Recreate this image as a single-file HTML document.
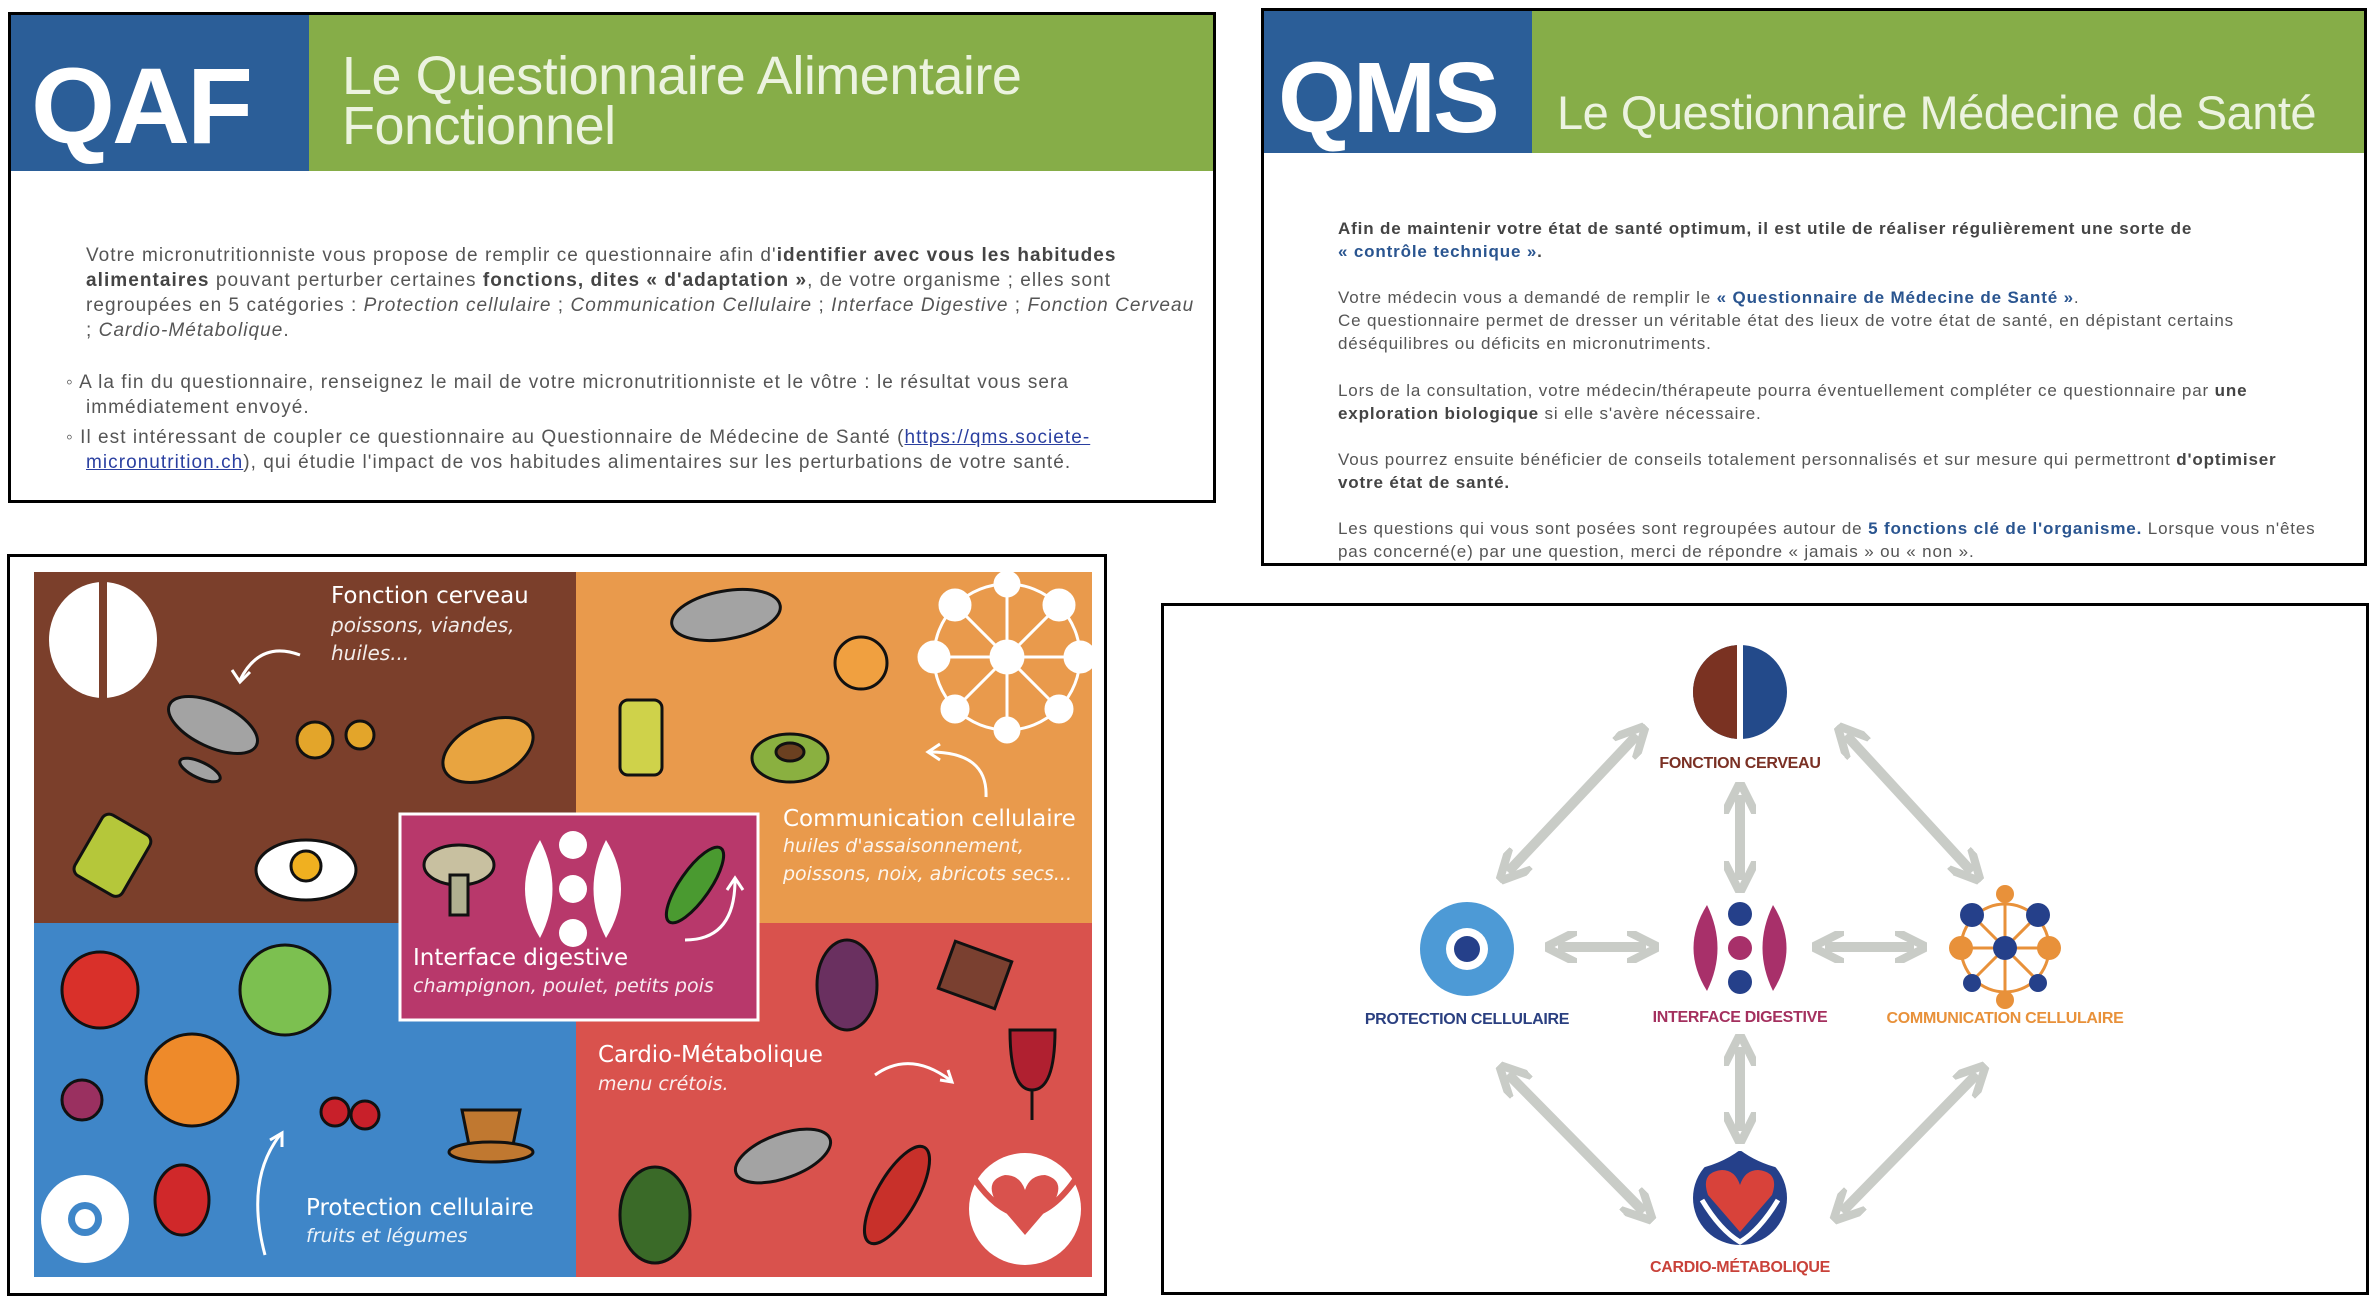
<!DOCTYPE html>
<html><head><meta charset="utf-8">
<style>
*{margin:0;padding:0;box-sizing:border-box}
body{width:2376px;height:1306px;background:#fff;position:relative;overflow:hidden;font-family:"Liberation Sans",sans-serif}
.box{position:absolute;border:3px solid #000;background:#fff;overflow:hidden}
.abs{position:absolute;white-space:nowrap}
.qaf p{font-size:19px;color:#555;line-height:25px;letter-spacing:1.05px}
.qms p{font-size:17px;color:#555;line-height:23.5px;letter-spacing:0.85px}
b{color:#444}
.lk{color:#2a5590;font-weight:bold}
.t{color:#fff;font-family:"DejaVu Sans","Liberation Sans",sans-serif}
.lab{position:absolute;font-weight:bold;font-size:16px;transform:translateX(-50%);white-space:nowrap;letter-spacing:-0.3px}
.ttl{color:rgba(245,248,238,0.92);letter-spacing:-0.5px}
</style></head><body>

<!-- QAF -->
<div class="box qaf" style="left:8px;top:12px;width:1208px;height:491px">
 <div class="abs" style="left:0;top:0;width:298px;height:156px;background:#2b5e98"></div>
 <div class="abs" style="left:298px;top:0;width:910px;height:156px;background:#86ad48"></div>
 <div class="abs" style="left:20px;top:28px;font-size:108px;font-weight:bold;color:#fff;letter-spacing:-3px">QAF</div>
 <div class="abs ttl" style="left:331px;top:36px;font-size:54px;line-height:50px">Le Questionnaire Alimentaire<br>Fonctionnel</div>
 <p class="abs" style="left:75px;top:228px">Votre micronutritionniste vous propose de remplir ce questionnaire afin d'<b>identifier avec vous les habitudes</b></p>
 <p class="abs" style="left:75px;top:253px"><b>alimentaires</b> pouvant perturber certaines <b>fonctions, dites « d'adaptation »</b>, de votre organisme ; elles sont</p>
 <p class="abs" style="left:75px;top:278px">regroupées en 5 catégories : <i>Protection cellulaire</i> ; <i>Communication Cellulaire</i> ; <i>Interface Digestive</i> ; <i>Fonction Cerveau</i></p>
 <p class="abs" style="left:75px;top:303px">; <i>Cardio-Métabolique</i>.</p>
 <p class="abs" style="left:55px;top:355px">◦ A la fin du questionnaire, renseignez le mail de votre micronutritionniste et le vôtre : le résultat vous sera</p>
 <p class="abs" style="left:75px;top:380px">immédiatement envoyé.</p>
 <p class="abs" style="left:55px;top:410px">◦ Il est intéressant de coupler ce questionnaire au Questionnaire de Médecine de Santé (<u style="color:#2a3fa0">https://qms.societe-</u></p>
 <p class="abs" style="left:75px;top:435px"><u style="color:#2a3fa0">micronutrition.ch</u>), qui étudie l'impact de vos habitudes alimentaires sur les perturbations de votre santé.</p>
</div>

<!-- QMS -->
<div class="box qms" style="left:1261px;top:8px;width:1106px;height:558px">
 <div class="abs" style="left:0;top:0;width:268px;height:142px;background:#2b5e98"></div>
 <div class="abs" style="left:268px;top:0;width:840px;height:142px;background:#86ad48"></div>
 <div class="abs" style="left:14px;top:30px;font-size:100px;font-weight:bold;color:#fff;letter-spacing:-3px">QMS</div>
 <div class="abs ttl" style="left:293px;top:74px;font-size:47px">Le Questionnaire Médecine de Santé</div>
 <p class="abs" style="left:74px;top:206px"><b>Afin de maintenir votre état de santé optimum, il est utile de réaliser régulièrement une sorte de</b></p>
 <p class="abs" style="left:74px;top:229px"><span class="lk">« contrôle technique »</span><b>.</b></p>
 <p class="abs" style="left:74px;top:275px">Votre médecin vous a demandé de remplir le <span class="lk">« Questionnaire de Médecine de Santé »</span>.</p>
 <p class="abs" style="left:74px;top:298px">Ce questionnaire permet de dresser un véritable état des lieux de votre état de santé, en dépistant certains</p>
 <p class="abs" style="left:74px;top:321px">déséquilibres ou déficits en micronutriments.</p>
 <p class="abs" style="left:74px;top:368px">Lors de la consultation, votre médecin/thérapeute pourra éventuellement compléter ce questionnaire par <b>une</b></p>
 <p class="abs" style="left:74px;top:391px"><b>exploration biologique</b> si elle s'avère nécessaire.</p>
 <p class="abs" style="left:74px;top:437px">Vous pourrez ensuite bénéficier de conseils totalement personnalisés et sur mesure qui permettront <b>d'optimiser</b></p>
 <p class="abs" style="left:74px;top:460px"><b>votre état de santé.</b></p>
 <p class="abs" style="left:74px;top:506px">Les questions qui vous sont posées sont regroupées autour de <span class="lk">5 fonctions clé de l'organisme.</span> Lorsque vous n'êtes</p>
 <p class="abs" style="left:74px;top:529px">pas concerné(e) par une question, merci de répondre « jamais » ou « non ».</p>
</div>

<!-- Food panel -->
<div class="box" style="left:7px;top:554px;width:1100px;height:742px">
<svg width="1100" height="742" style="position:absolute;left:-3px;top:-3px">
 <g transform="translate(-7,-554)">
 <rect x="34" y="572" width="542" height="351" fill="#7b3f2b"/>
 <rect x="576" y="572" width="516" height="351" fill="#e99a4c"/>
 <rect x="34" y="923" width="542" height="354" fill="#3f86c8"/>
 <rect x="576" y="923" width="516" height="354" fill="#d9524d"/>
 <rect x="400" y="814" width="358" height="206" fill="#b8386b" stroke="#fff" stroke-width="3"/>
 <ellipse cx="103" cy="640" rx="54" ry="58" fill="#fff"/><rect x="99" y="580" width="8" height="120" fill="#7b3f2b"/>
 <g stroke="#fff" stroke-width="3" fill="#fff">
  <circle cx="1007" cy="657" r="73" fill="none"/>
  <line x1="934" y1="657" x2="1080" y2="657"/><line x1="1007" y1="584" x2="1007" y2="730"/>
  <line x1="955" y1="605" x2="1059" y2="709"/><line x1="1059" y1="605" x2="955" y2="709"/>
  <circle cx="1007" cy="657" r="16"/><circle cx="934" cy="657" r="15"/><circle cx="1080" cy="657" r="15"/>
  <circle cx="1007" cy="584" r="12"/><circle cx="1007" cy="730" r="12"/>
  <circle cx="955" cy="605" r="15"/><circle cx="1059" cy="605" r="15"/><circle cx="955" cy="709" r="13"/><circle cx="1059" cy="709" r="13"/>
 </g>
 <g fill="#fff"><path d="M540 840 Q510 889 540 938 Q565 889 540 840Z"/><path d="M606 840 Q636 889 606 938 Q581 889 606 840Z"/>
  <circle cx="573" cy="845" r="14"/><circle cx="573" cy="889" r="14"/><circle cx="573" cy="933" r="14"/></g>
 <circle cx="85" cy="1219" r="44" fill="#fff"/><circle cx="85" cy="1219" r="17" fill="#3f86c8"/><circle cx="85" cy="1219" r="10" fill="#fff"/>
 <circle cx="1025" cy="1209" r="56" fill="#fff"/>
 <path d="M1025 1235 L995 1200 Q985 1180 1005 1175 Q1020 1175 1025 1190 Q1030 1175 1045 1175 Q1065 1180 1055 1200Z" fill="#d9524d"/>
 <path d="M975 1180 Q1025 1250 1075 1180" stroke="#d9524d" stroke-width="6" fill="none"/>
 <g stroke="#fff" stroke-width="3" fill="none">
  <path d="M300 655 Q260 640 240 680"/><path d="M232 670 L240 682 L250 672"/>
  <path d="M986 797 Q988 752 930 752"/><path d="M940 744 L928 752 L940 760"/>
  <path d="M685 940 Q735 940 735 880"/><path d="M727 890 L735 878 L743 890"/>
  <path d="M875 1075 Q910 1050 950 1080"/><path d="M940 1080 L952 1082 L948 1070"/>
  <path d="M265 1255 Q245 1180 280 1135"/><path d="M270 1140 L282 1133 L282 1147"/>
 </g>
 <g stroke="#111" stroke-width="3">
  <ellipse cx="213" cy="725" rx="48" ry="22" fill="#a3a3a3" transform="rotate(25 213 725)"/>
  <ellipse cx="200" cy="770" rx="22" ry="8" fill="#a3a3a3" transform="rotate(25 200 770)"/>
  <circle cx="315" cy="740" r="18" fill="#e3a52a"/><circle cx="360" cy="735" r="14" fill="#e3a52a"/>
  <ellipse cx="488" cy="750" rx="48" ry="28" fill="#e8a440" transform="rotate(-25 488 750)"/>
  <rect x="85" y="820" width="55" height="70" rx="8" fill="#b5c73a" transform="rotate(30 112 855)"/>
  <ellipse cx="306" cy="870" rx="50" ry="30" fill="#fff"/><circle cx="306" cy="866" r="15" fill="#f0b020"/>
  <ellipse cx="726" cy="615" rx="55" ry="24" fill="#a3a3a3" transform="rotate(-10 726 615)"/>
  <circle cx="861" cy="663" r="26" fill="#f0a040"/>
  <rect x="620" y="700" width="42" height="75" rx="8" fill="#cfd24a"/>
  <ellipse cx="790" cy="758" rx="38" ry="24" fill="#8ab040"/><ellipse cx="790" cy="752" rx="14" ry="9" fill="#6b4020"/>
  <ellipse cx="459" cy="865" rx="35" ry="20" fill="#c8c0a0"/><rect x="450" y="875" width="18" height="40" fill="#b0b090"/>
  <ellipse cx="695" cy="885" rx="15" ry="45" fill="#4a9a30" transform="rotate(35 695 885)"/>
  <circle cx="100" cy="990" r="38" fill="#d9302a"/>
  <circle cx="285" cy="990" r="45" fill="#7cc050"/>
  <circle cx="192" cy="1080" r="46" fill="#ee8a2a"/>
  <circle cx="82" cy="1100" r="20" fill="#9a3060"/>
  <circle cx="335" cy="1112" r="14" fill="#c8202a"/><circle cx="365" cy="1115" r="14" fill="#c8202a"/>
  <path d="M462 1110 L520 1110 L512 1150 L470 1150Z" fill="#c07830"/><ellipse cx="491" cy="1152" rx="42" ry="10" fill="#c07830"/>
  <ellipse cx="182" cy="1200" rx="27" ry="35" fill="#d0282a"/>
  <ellipse cx="847" cy="985" rx="30" ry="45" fill="#6a3060"/>
  <rect x="945" y="950" width="60" height="50" fill="#7a4030" transform="rotate(20 975 975)"/>
  <path d="M1010 1030 L1055 1030 Q1055 1090 1032 1090 Q1010 1090 1010 1030Z" fill="#b02030"/><line x1="1032" y1="1090" x2="1032" y2="1120"/>
  <ellipse cx="783" cy="1156" rx="50" ry="22" fill="#a3a3a3" transform="rotate(-20 783 1156)"/>
  <ellipse cx="655" cy="1215" rx="35" ry="48" fill="#3a6a28"/>
  <ellipse cx="897" cy="1195" rx="20" ry="55" fill="#c8302a" transform="rotate(30 897 1195)"/>
 </g>
 </g>
</svg>
 <div class="abs t" style="left:321px;top:26px;font-size:23px">Fonction cerveau</div>
 <div class="abs t" style="left:321px;top:56px;font-size:20px;font-style:italic;opacity:.9">poissons, viandes,</div>
 <div class="abs t" style="left:321px;top:84px;font-size:20px;font-style:italic;opacity:.9">huiles...</div>
 <div class="abs t" style="left:773px;top:249px;font-size:23px">Communication cellulaire</div>
 <div class="abs t" style="left:773px;top:278px;font-size:19px;font-style:italic;opacity:.9">huiles d'assaisonnement,</div>
 <div class="abs t" style="left:773px;top:306px;font-size:19px;font-style:italic;opacity:.9">poissons, noix, abricots secs...</div>
 <div class="abs t" style="left:403px;top:388px;font-size:23px">Interface digestive</div>
 <div class="abs t" style="left:403px;top:418px;font-size:19px;font-style:italic;opacity:.9">champignon, poulet, petits pois</div>
 <div class="abs t" style="left:588px;top:485px;font-size:23px">Cardio-Métabolique</div>
 <div class="abs t" style="left:588px;top:516px;font-size:19px;font-style:italic;opacity:.9">menu crétois.</div>
 <div class="abs t" style="left:296px;top:638px;font-size:23px">Protection cellulaire</div>
 <div class="abs t" style="left:296px;top:668px;font-size:19px;font-style:italic;opacity:.9">fruits et légumes</div>
</div>

<!-- Diagram -->
<div class="box" style="left:1161px;top:603px;width:1208px;height:692px"></div>
<svg width="2376" height="1306" style="position:absolute;left:0;top:0">
 <defs>
  <marker id="ah" viewBox="0 0 10 10" refX="6" refY="5" markerWidth="3.2" markerHeight="3.2" orient="auto-start-reverse" markerUnits="strokeWidth">
   <path d="M0 0 L10 5 L0 10" fill="none" stroke="#c9ccc7" stroke-width="2.6"/>
  </marker>
 </defs>
 <g stroke="#c9ccc7" stroke-width="10" marker-start="url(#ah)" marker-end="url(#ah)">
  <line x1="1637" y1="735" x2="1508" y2="872"/>
  <line x1="1846" y1="735" x2="1972" y2="872"/>
  <line x1="1740" y1="795" x2="1740" y2="880"/>
  <line x1="1558" y1="947" x2="1646" y2="947"/>
  <line x1="1825" y1="947" x2="1914" y2="947"/>
  <line x1="1740" y1="1047" x2="1740" y2="1131"/>
  <line x1="1508" y1="1074" x2="1644" y2="1212"/>
  <line x1="1977" y1="1074" x2="1842" y2="1212"/>
 </g>
 <ellipse cx="1740" cy="692" rx="47" ry="47" fill="#234a8a"/>
 <path d="M1740 645 A47 47 0 0 0 1740 739Z" fill="#7a3222"/>
 <rect x="1737" y="643" width="6" height="98" fill="#fff"/>
 <circle cx="1467" cy="949" r="47" fill="#4d9ad6"/><circle cx="1467" cy="949" r="21" fill="#fff"/><circle cx="1467" cy="949" r="13" fill="#25408a"/>
 <path d="M1707 905 Q1680 948 1707 991 Q1728 948 1707 905Z" fill="#a8306a"/>
 <path d="M1773 905 Q1800 948 1773 991 Q1752 948 1773 905Z" fill="#a8306a"/>
 <circle cx="1740" cy="914" r="12" fill="#25408a"/><circle cx="1740" cy="948" r="12" fill="#a8306a"/><circle cx="1740" cy="982" r="12" fill="#25408a"/>
 <g stroke="#e8913a" stroke-width="3" fill="none">
  <circle cx="2005" cy="948" r="44"/>
  <line x1="1961" y1="948" x2="2049" y2="948"/><line x1="2005" y1="904" x2="2005" y2="992"/>
  <line x1="1972" y1="915" x2="2038" y2="981"/><line x1="2038" y1="915" x2="1972" y2="981"/>
 </g>
 <g fill="#e8913a"><circle cx="1961" cy="948" r="12"/><circle cx="2049" cy="948" r="12"/><circle cx="2005" cy="894" r="9"/><circle cx="2005" cy="1000" r="9"/></g>
 <g fill="#25408a"><circle cx="2005" cy="948" r="12"/><circle cx="1972" cy="915" r="12"/><circle cx="2038" cy="915" r="12"/><circle cx="1972" cy="983" r="9"/><circle cx="2038" cy="983" r="9"/></g>
 <circle cx="1740" cy="1198" r="47" fill="#25408a"/>
 <path d="M1740 1150 Q1760 1165 1788 1170 L1788 1150Z M1740 1150 Q1720 1165 1692 1170 L1692 1150Z" fill="#fff"/>
 <path d="M1740 1232 L1708 1195 Q1700 1172 1722 1170 Q1735 1170 1740 1185 Q1745 1170 1758 1170 Q1780 1172 1772 1195Z" fill="#d8423a"/>
 <path d="M1702 1200 Q1720 1230 1740 1242 Q1760 1230 1778 1200" stroke="#fff" stroke-width="5" fill="none"/>
</svg>
<div class="lab" style="left:1740px;top:755px;color:#7a3024">FONCTION CERVEAU</div>
<div class="lab" style="left:1467px;top:1011px;color:#2a3f80">PROTECTION CELLULAIRE</div>
<div class="lab" style="left:1740px;top:1009px;color:#a4305e">INTERFACE DIGESTIVE</div>
<div class="lab" style="left:2005px;top:1010px;color:#e8913a">COMMUNICATION CELLULAIRE</div>
<div class="lab" style="left:1740px;top:1259px;color:#c9423a">CARDIO-MÉTABOLIQUE</div>
</body></html>
